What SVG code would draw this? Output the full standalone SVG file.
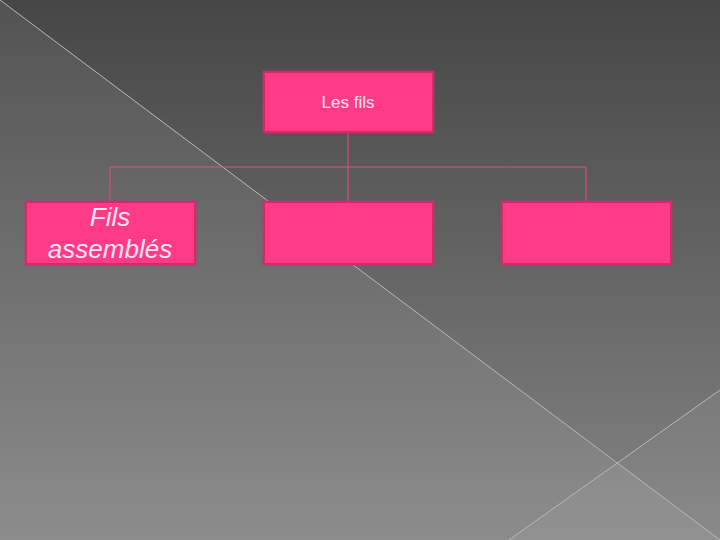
<svg xmlns="http://www.w3.org/2000/svg" width="720" height="540" viewBox="0 0 720 540">
  <defs>
    <linearGradient id="bg" x1="0" y1="0" x2="0" y2="1">
      <stop offset="0" stop-color="#464646"/>
      <stop offset="1" stop-color="#848484"/>
    </linearGradient>
    <filter id="glow" x="-10%" y="-20%" width="120%" height="140%">
      <feGaussianBlur in="SourceAlpha" stdDeviation="1.2" result="b"/>
      <feFlood flood-color="#e0206a" flood-opacity="0.9"/>
      <feComposite in2="b" operator="in" result="g"/>
      <feMerge><feMergeNode in="g"/><feMergeNode in="SourceGraphic"/></feMerge>
    </filter>
  </defs>
  <style>
    .box { fill: #ff3a88; stroke: #d42a6c; stroke-width: 2; filter: url(#glow); }
    .conn { stroke: #ea4a86; stroke-width: 1; fill: none; }
    .deco { stroke: #b8b8b8; stroke-width: 1; fill: none; }
    .lbl { font-family: "Liberation Sans", Arial, sans-serif; fill: #fce6f1; text-anchor: middle; }
  </style>
  <rect x="0" y="0" width="720" height="540" fill="url(#bg)"/>
  <polygon points="0,0 720,540 0,540" fill="#ffffff" fill-opacity="0.07"/>
  <polygon points="509,540 720,390 720,540" fill="#ffffff" fill-opacity="0.05"/>
  <line class="deco" x1="0" y1="0" x2="720" y2="540"/>
  <line class="deco" x1="509" y1="540" x2="720" y2="390"/>

  <g id="connectors">
    <line class="conn" x1="348" y1="133" x2="348" y2="167"/>
    <line class="conn" x1="110" y1="167" x2="586" y2="167"/>
    <line class="conn" x1="110" y1="167" x2="110" y2="202"/>
    <line class="conn" x1="348" y1="167" x2="348" y2="202"/>
    <line class="conn" x1="586" y1="167" x2="586" y2="202"/>
  </g>

  <g id="node-root">
    <rect class="box" x="264" y="72" width="169" height="60"/>
    <text class="lbl" x="348" y="108" font-size="17">Les fils</text>
  </g>
  <g id="node-fils-assembles">
    <rect class="box" x="26" y="202" width="169" height="62"/>
    <text class="lbl" x="110" y="226" font-size="26" font-style="italic">Fils</text>
    <text class="lbl" x="110" y="258" font-size="26" font-style="italic">assemblés</text>
  </g>
  <g id="node-middle">
    <rect class="box" x="264" y="202" width="169" height="62"/>
  </g>
  <g id="node-right">
    <rect class="box" x="502" y="202" width="169" height="62"/>
  </g>
</svg>
